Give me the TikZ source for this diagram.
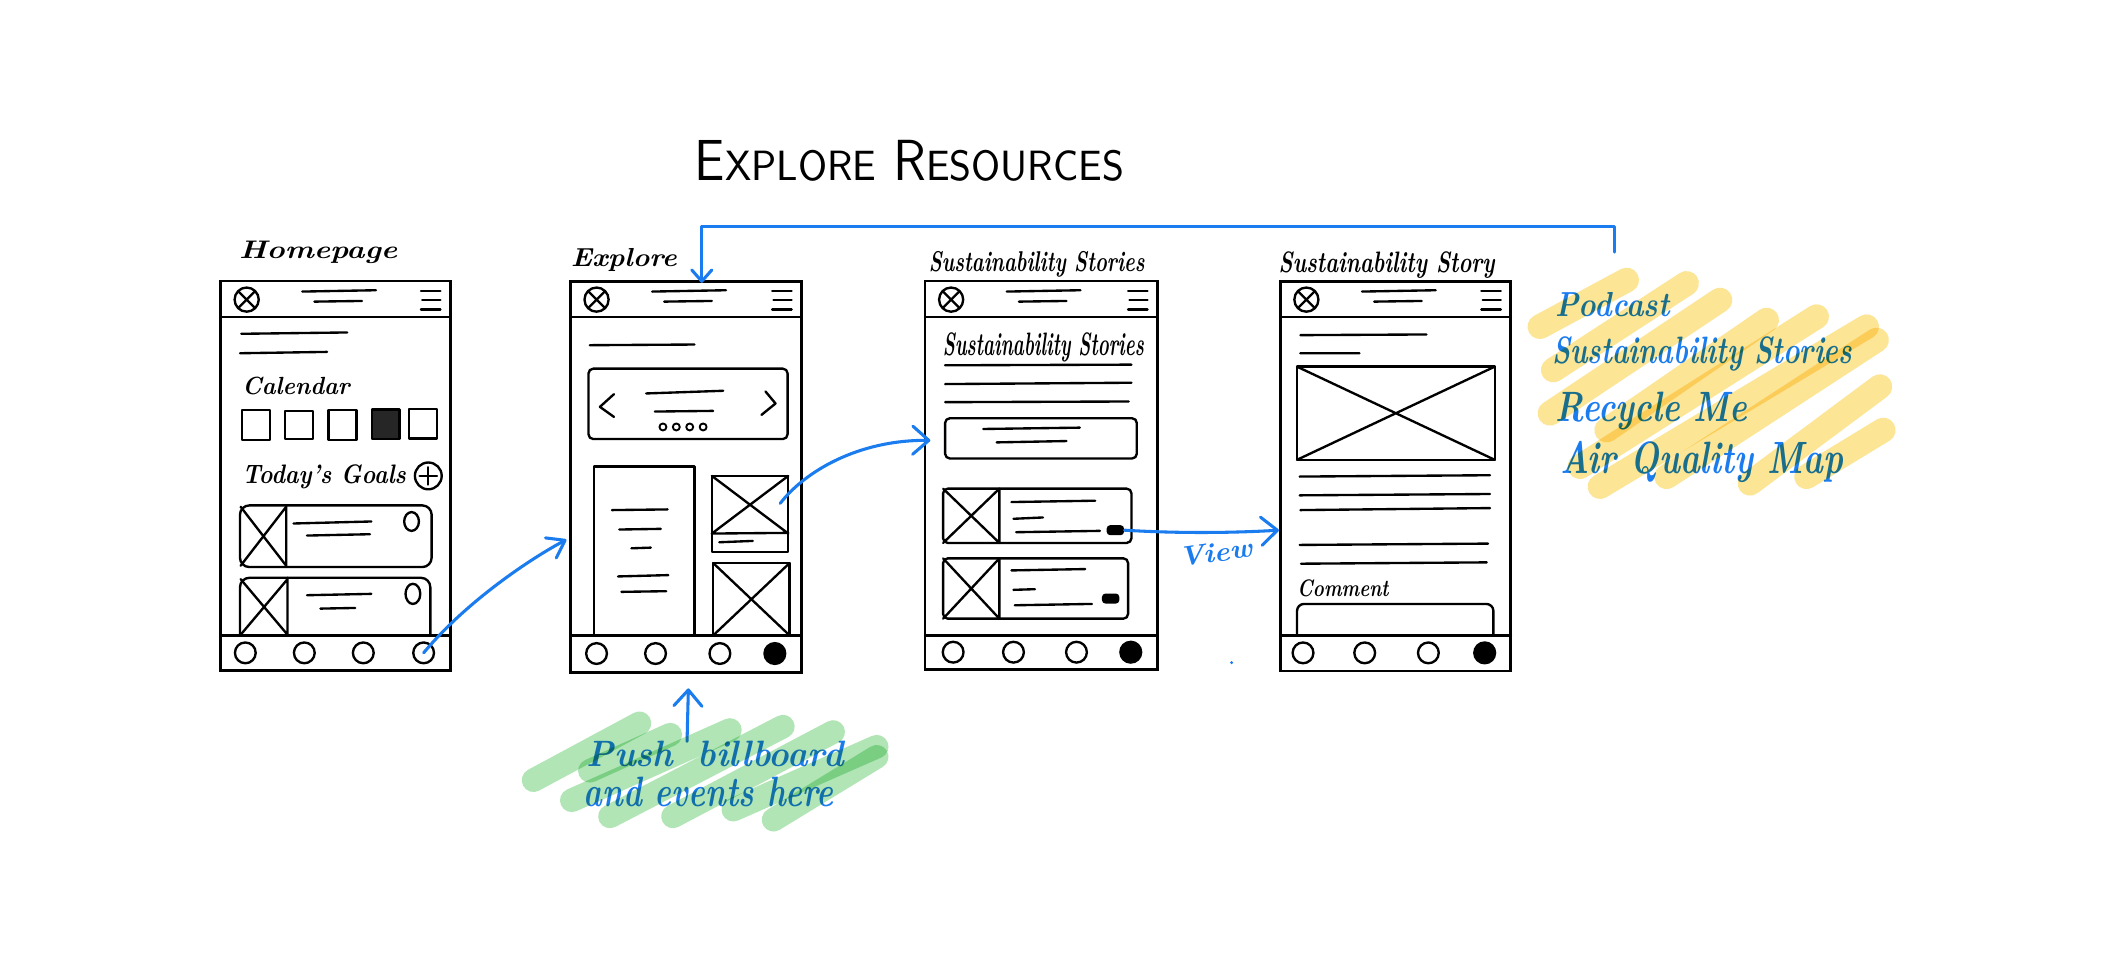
\documentclass[tikz,border=0pt]{standalone}
\usepackage{graphicx}
\usetikzlibrary{arrows.meta}
\definecolor{penblue}{RGB}{26,124,238}
\definecolor{hlyellow}{RGB}{252,212,80}
\definecolor{hlgreen}{RGB}{100,205,110}
\newlength\pxu
\setlength\pxu{0.02cm}
% text squeezed into a box of given width and height (in drawing units)
\newcommand\fitwh[3]{\resizebox{#1\pxu}{#2\pxu}{#3}}

\tikzset{
  ink/.style={line width=1pt, line cap=round, line join=round},
  phoneframe/.style={draw, line width=1.15pt, inner sep=0pt, outer sep=0pt},
  fdot/.style={draw, circle, line width=1pt, minimum size=0.31cm, inner sep=0pt},
  hand/.style={anchor=base west, inner sep=0pt, font=\bfseries\itshape},
  note/.style={anchor=base west, inner sep=0pt, text=penblue, font=\bfseries\itshape},
  penarrow/.style={draw=penblue, line width=1.3pt, line cap=round, line join=round,
    -{Straight Barb[length=2.4mm, width=4.2mm, round]}},
  hly/.style={draw=hlyellow, line width=10.5pt, line cap=round, opacity=0.6},
  hlg/.style={draw=hlgreen, line width=10pt, line cap=round, opacity=0.5},
  btn/.style={fill=black, rounded corners=1.5pt, minimum width=0.26cm, minimum height=0.15cm, inner sep=0pt},
  % header and footer bars of a phone screen; #1 is the screen width
  pics/chrome/.style={code={
    \draw[ink] (0,236.5) -- (#1,236.5) (0,474) -- (#1,474);
    \draw[ink] (19.5,223.5) circle[radius=9];
    \draw[ink] (13.5,217.5) -- (25.5,229.5) (13.5,229.5) -- (25.5,217.5);
    \draw[ink] (61,217.5) -- (116,216.5) (70,225) -- (105.5,224.5);
    \draw[ink] (#1-22,217) -- (#1-7.5,217) (#1-21,224) -- (#1-7.5,224) (#1-22,231) -- (#1-7.5,231);
  }},
}

\begin{document}
\begin{tikzpicture}[x=0.02cm, y=-0.02cm]
\fill[white] (0,0) rectangle (1568,713);
\useasboundingbox (0,0) rectangle (1568,713);

% heading
\node[anchor=base west, inner sep=0pt] (title) at (518,135)
  {\fitwh{320}{30}{\sffamily E{\fontsize{7.3}{9}\selectfont XPLORE} R{\fontsize{7.3}{9}\selectfont ESOURCES}}};

% phone frames
\node[phoneframe, minimum width=3.43cm, minimum height=5.81cm] (home) at (250.25,354.75) {};
\node[phoneframe, minimum width=3.45cm, minimum height=5.83cm] (explore) at (511.75,355.75) {};
\node[phoneframe, minimum width=3.47cm, minimum height=5.80cm] (stories) at (776.75,354.5) {};
\node[phoneframe, minimum width=3.44cm, minimum height=5.81cm] (story) at (1041,355.25) {};

\pic at (164.5,0) {chrome=171.5};
\pic at (425.5,0) {chrome=172.5};
\pic at (690,0) {chrome=173.5};
\pic at (955,0) {chrome=172};

% screen names
\node[hand] (homeT) at (178,193) {\fitwh{118}{13}{Homepage}};
\node[hand] (explT) at (425.5,199) {\fitwh{79}{13.5}{Explore}};
\node[hand] (storiesT) at (692.5,202.5) {\fitwh{161}{15}{Sustainability Stories}};
\node[hand] (storyT) at (953.5,203.5) {\fitwh{161}{15.5}{Sustainability Story}};

% ---- Homepage ----
\draw[ink] (180,249) -- (259,248) (179,263.5) -- (244,262.5);
\node[hand] (cal) at (180.5,294) {\fitwh{80}{13}{Calendar}};
\draw[ink] (180.5,306) rectangle (201.5,328);
\draw[ink] (212.5,306.5) rectangle (233.5,327.5);
\draw[ink] (245,306) rectangle (266,328);
\draw[ink, fill=black!85] (277.5,305.5) rectangle (298,327.5);
\draw[ink] (305,305) rectangle (326,327);
\node[hand] (goals) at (180.5,361) {\fitwh{122}{14}{Today's Goals}};
\draw[ink] (319.5,355) circle[radius=10];
\draw[ink] (313,355) -- (326,355) (319.5,348.5) -- (319.5,361.5);
\draw[ink, rounded corners=4] (179,377) rectangle (322,423);
\draw[ink] (213.5,377) -- (213.5,423) (179.5,378) -- (213.5,422) (179.5,422) -- (213.5,378);
\draw[ink] (219,390.5) -- (277,389) (229,399.5) -- (276,398.5);
\draw[ink] (307,389) ellipse[x radius=5.5, y radius=7];
\draw[ink, rounded corners=4] (179,474) -- (179,431) -- (321,431) -- (321,474);
\draw[ink] (214.5,431) -- (214.5,474) (179.5,432) -- (214.5,473.5) (179.5,473.5) -- (214.5,432);
\draw[ink] (229,444) -- (277,443) (239,454) -- (265,453.5);
\draw[ink] (308,443) ellipse[x radius=5.5, y radius=7.5];
\node[fdot] (h1) at (183,487) {};
\node[fdot] (h2) at (227,487) {};
\node[fdot] (h3) at (271,487) {};
\node[fdot] (h4) at (316,487) {};

% ---- Explore ----
\draw[ink] (440,257.5) -- (518,257);
\draw[ink, rounded corners=2] (439,275) rectangle (587.5,327.5);
\draw[ink] (458,294) -- (447.5,303.5) -- (458,311);
\draw[ink] (571,292) -- (578.5,301) -- (568,309.5);
\draw[ink] (482,293.5) -- (539.5,291.5) (488.5,307) -- (532,306.5);
\foreach \x in {494.5,504.5,514.5,524.5}
  \draw[ink, line width=0.8pt] (\x,318.5) circle[radius=2.6];
\draw[ink] (443,474) -- (443,348) -- (518,348) -- (518,474);
\draw[ink] (456.5,380.5) -- (498,380) (462,395) -- (493,394.5) (471,409) -- (485.5,408.5)
           (461,430) -- (498.5,429) (463.5,441.5) -- (497,441);
\draw[ink] (531,355) rectangle (588,412);
\draw[ink] (531,398) -- (588,397.5) (531,355) -- (588,398) (531,398) -- (588,355);
\draw[ink] (536.5,404.5) -- (561.5,403.5);
\draw[ink] (532,474) -- (532,420) -- (589,420) -- (589,474);
\draw[ink] (532,420) -- (589,474) (532,474) -- (589,420);
\node[fdot] (e1) at (445,487.5) {};
\node[fdot] (e2) at (489,487.5) {};
\node[fdot] (e3) at (537,487.5) {};
\node[fdot, fill=black] (e4) at (578,487.5) {};

% ---- Sustainability Stories ----
\node[hand] (storiesH) at (703,265) {\fitwh{150}{17}{Sustainability Stories}};
\draw[ink] (705,272.5) -- (844,272) (705,286.5) -- (844,285.5) (705,300) -- (842,299.5);
\draw[ink, rounded corners=2] (705,312) rectangle (848,342);
\draw[ink] (733.5,320) -- (805.5,319) (743.5,330) -- (795.5,329);
\draw[ink, rounded corners=2] (703.5,364.5) rectangle (844,405);
\draw[ink] (745.5,364.5) -- (745.5,405) (703.5,364.5) -- (745.5,405) (703.5,405) -- (745.5,364.5);
\draw[ink] (754.5,374.5) -- (817,373.5) (756,387) -- (778,386) (758,397) -- (820.5,396);
\node[btn] (viewbtn) at (832,395.5) {};
\draw[ink, rounded corners=2] (703.5,416.5) rectangle (841.5,461.5);
\draw[ink] (745.5,416.5) -- (745.5,461.5) (703.5,416.5) -- (745.5,461.5) (703.5,461.5) -- (745.5,416.5);
\draw[ink] (754.5,425.5) -- (809.5,424.5) (756,440) -- (772,439.5) (757,451.5) -- (814.5,450.5);
\node[btn] (morebtn) at (828.5,446.5) {};
\node[fdot] (s1) at (711,486.5) {};
\node[fdot] (s2) at (756,486.5) {};
\node[fdot] (s3) at (803,486.5) {};
\node[fdot, fill=black] (s4) at (843.5,486.5) {};

% ---- Sustainability Story ----
\draw[ink] (970,250) -- (1064,249.5) (970,263.5) -- (1014,263.5);
\draw[ink] (967.5,273.5) rectangle (1115,343);
\draw[ink] (967.5,273.5) -- (1115,343) (967.5,343) -- (1115,273.5);
\draw[ink] (969.5,355.5) -- (1111.5,354.5) (969.5,369.5) -- (1111.5,368.5) (970,380.5) -- (1111.5,379)
           (969.5,406.5) -- (1110,405.5) (970.5,420.5) -- (1109,419.5);
\node[hand] (comment) at (967.5,445) {\fitwh{68}{12.5}{Comment}};
\draw[ink, rounded corners=3] (967.5,474) -- (967.5,450.5) -- (1114,450.5) -- (1114,474);
\node[fdot] (t1) at (972,487) {};
\node[fdot] (t2) at (1018,487) {};
\node[fdot] (t3) at (1065.5,487) {};
\node[fdot, fill=black] (t4) at (1107.5,487) {};

% ---- blue notes ----
\node[note] (push1) at (437.5,572) {\fitwh{191.5}{19}{Push\hspace{0.7em}billboard}};
\node[note] (push2) at (435,601.5) {\fitwh{186.5}{22}{and events here}};
\node[note] (res1) at (1160,236) {\fitwh{85}{18}{Podcast}};
\node[note] (res2) at (1157.5,271) {\fitwh{224}{20}{Sustainability Stories}};
\node[note] (res3) at (1160,314.5) {\fitwh{143}{22}{Recycle Me}};
\node[note] (res4) at (1163.5,353) {\fitwh{211}{24}{Air Quality Map}};
\node[note, rotate=8] (view) at (880,423) {\fitwh{55}{14}{View}};

% ---- connectors ----
\coordinate (a1end) at (422.5,402.5);
\draw[penarrow, -{Straight Barb[length=2.4mm, width=3.4mm, round]}]
  (h4.center) .. controls (345,452) and (390,420) .. (a1end);
\coordinate (a2start) at (582,375.5);
\coordinate (a2end) at (694,328.5);
\draw[penarrow] (a2start) .. controls (600,352) and (640,328) .. (a2end);
\coordinate (a3end) at (954,395.5);
\draw[penarrow] (viewbtn.east) .. controls (880,398) and (920,397.5) .. (a3end);
\coordinate (a4start) at (512.5,553);
\coordinate (a4end) at (513.5,513.5);
\draw[penarrow] (a4start) -- (a4end);
\coordinate (loopstart) at (1204.5,188);
\coordinate (a5end) at (523.5,211);
\draw[penarrow, -{Straight Barb[length=1.7mm, width=3mm, round]}]
  (loopstart) -- ++(0,-19) -| (a5end);
\fill[penblue] (918.7,494.3) circle[radius=1.2];

% ---- highlighter strokes ----
\begin{scope}[blend mode=multiply]
  \draw[hlg] (398,582) -- (477,539.5);
  \draw[hlg] (426.5,597) -- (544.5,544.5);
  \draw[hlg] (440,575) -- (500,548);
  \draw[hlg] (455,609) -- (584,542);
  \draw[hlg] (502,609) -- (621.5,546);
  \draw[hlg] (547,604) -- (654,557);
  \draw[hlg] (577,611.5) -- (654,564.5);

  \draw[hly] (1148.7,243.7) -- (1213.4,208.9);
  \draw[hly] (1158.7,276) -- (1258.1,211.4);
  \draw[hly] (1156.2,308.3) -- (1283,223.8);
  \draw[hly] (1198.5,320.8) -- (1317.8,238.7);
  \draw[hly] (1178.6,348.1) -- (1355.1,236.2);
  \draw[hly] (1193.5,363) -- (1392.4,243.7);
  \draw[hly] (1243.2,355.6) -- (1399.8,253.6);
  \draw[hly] (1305.4,360.5) -- (1402.3,288.4);
  \draw[hly] (1347.6,355.6) -- (1404.8,320.8);
\end{scope}
\end{tikzpicture}
\end{document}
